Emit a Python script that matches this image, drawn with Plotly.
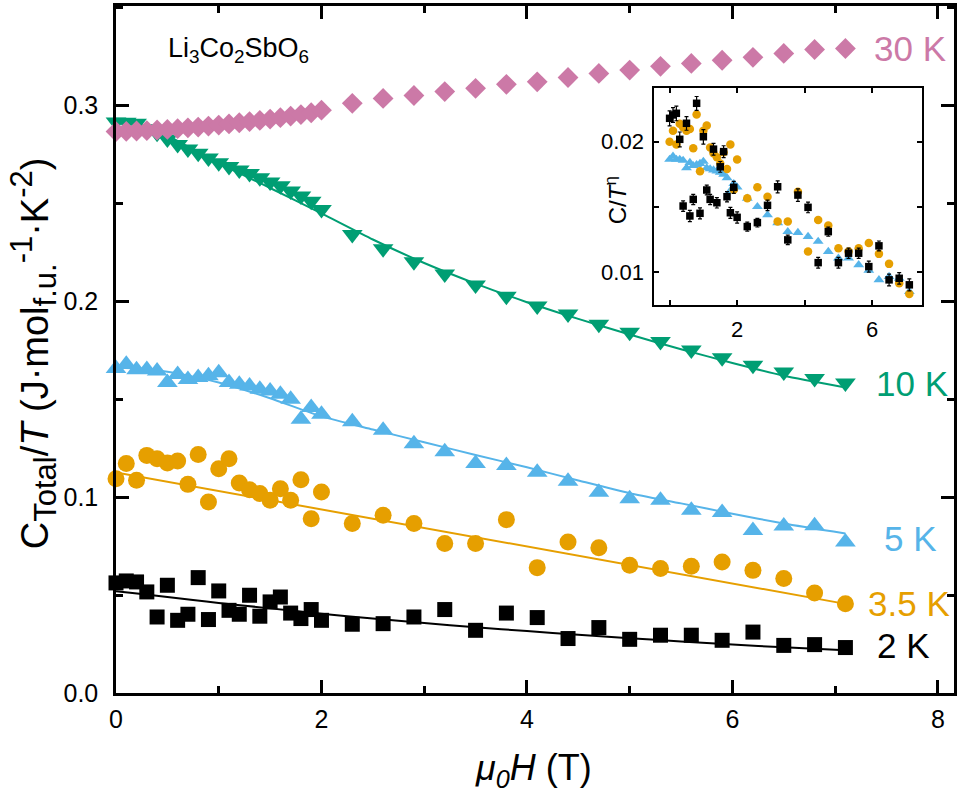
import plotly.graph_objects as go

# ---------------- data ----------------
field_T = [0.0, 0.1, 0.2, 0.3, 0.4, 0.5, 0.6, 0.7, 0.8, 0.9, 1.0,
           1.1, 1.2, 1.3, 1.4, 1.5, 1.6, 1.7, 1.8, 1.9, 2.0,
           2.3, 2.6, 2.9, 3.2, 3.5, 3.8, 4.1, 4.4, 4.7, 5.0,
           5.3, 5.6, 5.9, 6.2, 6.5, 6.8, 7.1]

c_30K = [0.2866, 0.2867, 0.2869, 0.2871, 0.2874, 0.2877, 0.2881, 0.2885, 0.2889, 0.2894, 0.2899,
         0.2905, 0.2911, 0.2917, 0.2923, 0.2930, 0.2937, 0.2945, 0.2953, 0.2962, 0.2975,
         0.3010, 0.3035, 0.3050, 0.3070, 0.3087, 0.3107, 0.3120, 0.3142, 0.3163, 0.3180,
         0.3199, 0.3214, 0.3230, 0.3245, 0.3265, 0.3285, 0.3290]

c_10K = [0.2915, 0.2913, 0.2908, 0.2880, 0.2858, 0.2828, 0.2800, 0.2777, 0.2755, 0.2731, 0.2707,
         0.2688, 0.2670, 0.2652, 0.2630, 0.2608, 0.2590, 0.2562, 0.2537, 0.2510, 0.2468,
         0.2341, 0.2268, 0.2202, 0.2139, 0.2083, 0.2025, 0.1976, 0.1935, 0.1882, 0.1841,
         0.1794, 0.1751, 0.1712, 0.1673, 0.1639, 0.1605, 0.1582]

c_5K = [0.1656, 0.1678, 0.1650, 0.1652, 0.1644, 0.1585, 0.1626, 0.1600, 0.1610, 0.1620, 0.1635,
        0.1585, 0.1576, 0.1567, 0.1550, 0.1542, 0.1525, 0.1500, 0.1397, 0.1457, 0.1423,
        0.1385, 0.1341, 0.1273, 0.1232, 0.1172, 0.1161, 0.1127, 0.1081, 0.1025, 0.0992,
        0.0984, 0.0933, 0.0922, 0.0830, 0.0852, 0.0854, 0.0771]

c_3p5K = [0.1094, 0.1171, 0.1086, 0.1213, 0.1196, 0.1174, 0.1184, 0.1065, 0.1218, 0.0975, 0.1145,
          0.1196, 0.1072, 0.1038, 0.1018, 0.0984, 0.1043, 0.0984, 0.1089, 0.0890, 0.1026,
          0.0865, 0.0907, 0.0865, 0.0763, 0.0763, 0.0885, 0.0640, 0.0771, 0.0742, 0.0652,
          0.0635, 0.0647, 0.0669, 0.0626, 0.0584, 0.0510, 0.0456]

c_2K = [0.0562, 0.0572, 0.0567, 0.0516, 0.0388, 0.0550, 0.0371, 0.0402, 0.0589, 0.0375, 0.0521,
        0.0422, 0.0402, 0.0499, 0.0392, 0.0465, 0.0490, 0.0408, 0.0380, 0.0426, 0.0371,
        0.0351, 0.0354, 0.0388, 0.0426, 0.0320, 0.0408, 0.0385, 0.0278, 0.0334, 0.0274,
        0.0295, 0.0295, 0.0269, 0.0311, 0.0243, 0.0247, 0.0232]

# fitted curves
fit_field = [0.0, 0.25, 0.5, 0.75, 1.0, 1.5, 2.0, 2.5, 3.0, 3.5, 4.0, 4.5, 5.0, 5.5, 6.0, 6.5, 7.1]
fit_10K = [0.2912, 0.2895, 0.2845, 0.2775, 0.2705, 0.2578, 0.2448, 0.2315, 0.2195, 0.2090,
           0.1995, 0.1910, 0.1830, 0.1755, 0.1685, 0.1620, 0.1560]
fit_5K = [0.1660, 0.1655, 0.1640, 0.1615, 0.1585, 0.1505, 0.1412, 0.1345, 0.1280, 0.1215,
          0.1152, 0.1085, 0.1020, 0.0968, 0.0915, 0.0865, 0.0814]
fit_2K = [0.0520, 0.0505, 0.0490, 0.0475, 0.0460, 0.0432, 0.0405, 0.0380, 0.0357, 0.0336,
          0.0316, 0.0297, 0.0280, 0.0263, 0.0248, 0.0233, 0.0218]
fit_field_3p5K = [0.0, 7.1]
fit_3p5K = [0.1126, 0.0455]

# inset: C / T^eta
inset_5K = [0.0182, 0.0185, 0.0182, 0.0182, 0.0181, 0.0174, 0.0179, 0.0176, 0.0177, 0.0178, 0.0180,
            0.0174, 0.0173, 0.0172, 0.0171, 0.0170, 0.0168, 0.0165, 0.0154, 0.0160, 0.0157,
            0.0148, 0.01416, 0.01355, 0.0130, 0.0124, 0.01234, 0.01208, 0.01177, 0.01116, 0.01077,
            0.01077, 0.0104, 0.0101, 0.0096, 0.00977, 0.00968, 0.00902]
inset_3p5K = [0.0200, 0.0212, 0.0197, 0.0220, 0.0216, 0.0212, 0.0214, 0.0193, 0.0231, 0.0171, 0.0212,
              0.0218, 0.0194, 0.0188, 0.0184, 0.0178, 0.0189, 0.0173, 0.0197, 0.0155, 0.0182,
              0.0148, 0.01569, 0.01493, 0.01308, 0.01308, 0.01533, 0.01116, 0.0132, 0.01281, 0.01136,
              0.01116, 0.01136, 0.01167, 0.01102, 0.01045, 0.00943, 0.00891]
inset_2K = [0.02264, 0.02305, 0.02325, 0.02025, 0.01421, 0.02205, 0.01348, 0.01472, 0.02452, 0.01367, 0.02053,
            0.01547, 0.01472, 0.01922, 0.01446, 0.0175, 0.01897, 0.01493, 0.01371, 0.01569, 0.01338,
            0.01274, 0.01301, 0.01426, 0.01574, 0.01187, 0.01506, 0.01411, 0.01052, 0.0124, 0.01052,
            0.01106, 0.01106, 0.0103, 0.0115, 0.0096, 0.00968, 0.00935]
inset_2K_err = [0.0009, 0.0009, 0.0009, 0.0008, 0.0004, 0.0008, 0.0004, 0.0004, 0.0009, 0.0004, 0.0008,
                0.0004, 0.0004, 0.0006, 0.0004, 0.0005, 0.0006, 0.0004, 0.0004, 0.0005, 0.0004,
                0.0003, 0.0003, 0.0004, 0.0005, 0.0003, 0.0005, 0.0004, 0.0003, 0.0003, 0.0003,
                0.0003, 0.0003, 0.0003, 0.0003, 0.0003, 0.0003, 0.0003]

x_ticks_main = [0, 2, 4, 6, 8]
y_ticks_main = [0.0, 0.1, 0.2, 0.3]
inset_x_ticks = [2, 6]
inset_y_ticks = [0.01, 0.01414, 0.02]
inset_y_ticktext = ["0.01", "", "0.02"]

# ---------------- styling ----------------
PINK = "#CC79A7"
GREEN = "#009E73"
BLUE = "#56B4E9"
ORANGE = "#E69F00"
BLACK = "#000000"
FONT = "Liberation Sans, Arial, sans-serif"

W, H = 958, 794
ML, MR, MT, MB = 116, 1, 6, 101

fig = go.Figure()

# fit lines (main)
for fx, fy, col in [(fit_field, fit_10K, GREEN), (fit_field, fit_5K, BLUE),
                    (fit_field_3p5K, fit_3p5K, ORANGE), (fit_field, fit_2K, BLACK)]:
    fig.add_trace(go.Scatter(x=fx, y=fy, mode="lines",
                             line=dict(color=col, width=2, shape="spline", smoothing=0.6),
                             showlegend=False, hoverinfo="skip", cliponaxis=False))

# main markers
series = [
    (c_2K, "square", 15, BLACK),
    (c_3p5K, "circle", 17, ORANGE),
    (c_5K, "triangle-up", 18, BLUE),
    (c_10K, "triangle-down", 18, GREEN),
    (c_30K, "diamond", 16, PINK),
]
for yv, sym, sz, col in series:
    fig.add_trace(go.Scatter(x=field_T, y=yv, mode="markers",
                             marker=dict(symbol=sym, size=sz, color=col, line=dict(width=0)),
                             showlegend=False, cliponaxis=False))

# inset markers
fig.add_trace(go.Scatter(x=field_T, y=inset_5K, mode="markers", xaxis="x2", yaxis="y2",
                         marker=dict(symbol="triangle-up", size=9.5, color=BLUE, line=dict(width=0)),
                         showlegend=False, cliponaxis=False))
fig.add_trace(go.Scatter(x=field_T, y=inset_3p5K, mode="markers", xaxis="x2", yaxis="y2",
                         marker=dict(symbol="circle", size=8.5, color=ORANGE, line=dict(width=0)),
                         showlegend=False, cliponaxis=False))
fig.add_trace(go.Scatter(x=field_T, y=inset_2K, mode="markers", xaxis="x2", yaxis="y2",
                         marker=dict(symbol="square", size=7.5, color=BLACK, line=dict(width=0)),
                         error_y=dict(type="data", array=inset_2K_err, color=BLACK, thickness=1.2, width=2),
                         showlegend=False, cliponaxis=False))

axis_common = dict(showgrid=False, zeroline=False, showline=True, linecolor="black",
                   mirror="ticks", ticks="inside", tickcolor="black")

fig.update_layout(
    width=W, height=H,
    margin=dict(l=ML, r=MR, t=MT, b=MB, pad=0),
    paper_bgcolor="white", plot_bgcolor="white",
    font=dict(family=FONT, color="black"),
    xaxis=dict(**axis_common, range=[0, 8.157], linewidth=2.5, tickwidth=2.5, ticklen=13,
               tickvals=x_ticks_main, tickfont=dict(size=25, family=FONT),
               ticklabelstandoff=2,
               minor=dict(dtick=1, tick0=0, ticks="inside", ticklen=7, tickwidth=2.5, tickcolor="black")),
    yaxis=dict(**axis_common, range=[0, 0.3507], linewidth=2.5, tickwidth=2.5, ticklen=13,
               tickvals=y_ticks_main, tickformat=".1f", tickfont=dict(size=25, family=FONT),
               ticklabelstandoff=10,
               minor=dict(dtick=0.05, tick0=0, ticks="inside", ticklen=7, tickwidth=2.5, tickcolor="black")),
    xaxis2=dict(**axis_common, domain=[0.6421, 0.9620], anchor="y2", range=[-0.46, 7.48],
                linewidth=1.5, tickwidth=1.5, ticklen=5, tickvals=inset_x_ticks,
                tickfont=dict(size=22, family=FONT), ticklabelstandoff=4,
                minor=dict(tickvals=[0, 4], ticks="inside", ticklen=5, tickwidth=1.5, tickcolor="black")),
    yaxis2=dict(**axis_common, domain=[0.5648, 0.8802], anchor="x2", type="log",
                range=[-2.0757, -1.5759], linewidth=1.5, tickwidth=1.5, ticklen=5,
                tickvals=inset_y_ticks, ticktext=inset_y_ticktext,
                tickfont=dict(size=22, family=FONT), ticklabelstandoff=4),
)

def px_to_paper(px, py):
    return (px - ML) / (W - ML - MR), (H - MB - py) / (H - MT - MB)

annotations = []
def add_text(text, px, py, size, color="black", xanchor="left", angle=0):
    x, y = px_to_paper(px, py)
    annotations.append(dict(text=text, x=x, y=y, xref="paper", yref="paper", showarrow=False,
                            xanchor=xanchor, yanchor="middle", textangle=angle,
                            font=dict(size=size, color=color, family=FONT)))

add_text("Li<sub>3</sub>Co<sub>2</sub>SbO<sub>6</sub>", 166, 50, 27)
add_text("30 K", 875, 48, 35, PINK)
add_text("10 K", 877, 384, 35, GREEN)
add_text("5 K", 885, 538, 35, BLUE)
add_text("3.5 K", 869, 603, 35, ORANGE)
add_text("2 K", 878, 645, 35, BLACK)
add_text("<i>μ<sub>0</sub>H</i> (T)", 535, 770, 36, xanchor="center")
SUB = "<span style='font-size:31px'>"
add_text("C<sub>" + SUB + "Total</span></sub>/<i>T</i> (J·mol<sub>" + SUB + "f.u.</span></sub><sup>"
         + SUB + "-1</span></sup>·K<sup>" + SUB + "-2</span></sup>)", 33, 353, 38,
         xanchor="center", angle=-90)
add_text("C/<i>T</i><sup>η</sup>", 618, 200, 24, xanchor="center", angle=-90)

fig.update_layout(annotations=annotations)

fig.write_html("out.html", config={"displayModeBar": False},
               post_script="document.body.style.margin='0px';document.body.style.overflow='hidden';")
